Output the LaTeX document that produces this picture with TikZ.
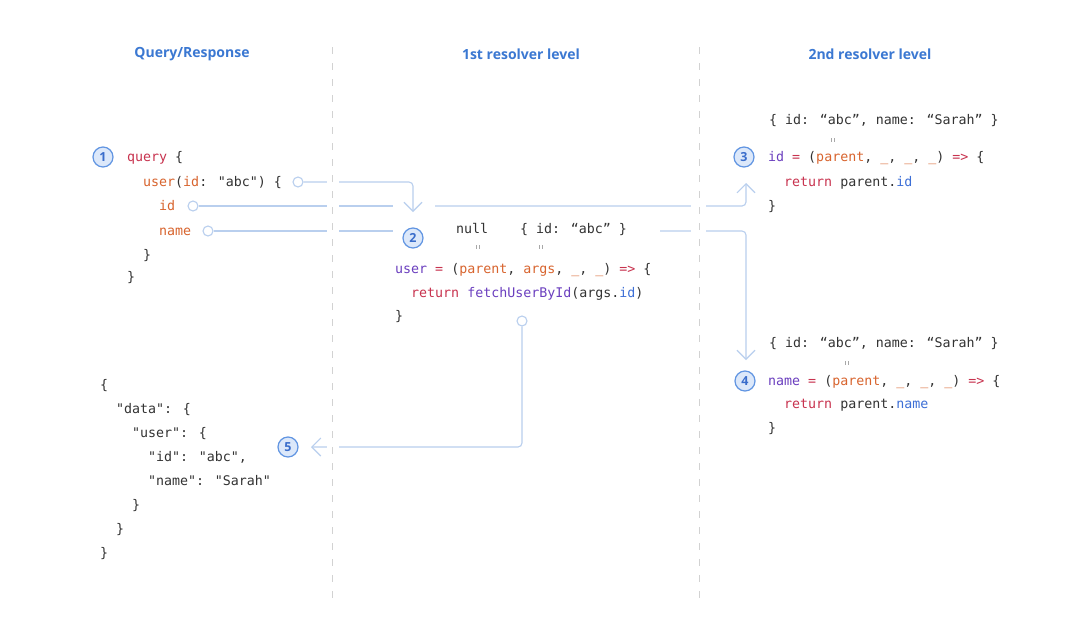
\documentclass[tikz,border=0pt]{standalone}
\usepackage{fontspec}
\setmainfont{Open Sans}
\newfontfamily\codefont{DejaVu Sans Mono}
\usetikzlibrary{arrows.meta}
\definecolor{hdrblue}{HTML}{3B78D2}
\definecolor{codedark}{HTML}{333333}
\definecolor{kwred}{HTML}{C8334F}
\definecolor{orng}{HTML}{D8642E}
\definecolor{purp}{HTML}{6B3FBF}
\definecolor{fblue}{HTML}{3D6FD6}
\definecolor{connblue}{HTML}{B9CFEE}
\definecolor{numedge}{HTML}{6195E2}
\definecolor{numfill}{HTML}{DCE8FA}
\definecolor{numtext}{HTML}{3A6DCB}
\definecolor{divgray}{HTML}{D2D2D2}
\definecolor{eqgray}{HTML}{A8A8A8}
\newcommand{\kw}[1]{\textcolor{kwred}{#1}}
\newcommand{\orn}[1]{\textcolor{orng}{#1}}
\newcommand{\pur}[1]{\textcolor{purp}{#1}}
\newcommand{\blu}[1]{\textcolor{fblue}{#1}}
\begin{document}
\begin{tikzpicture}[x=1pt,y=-1pt,
  code/.style={anchor=base west, inner sep=0pt, font=\codefont\fontsize{13.3}{15}\selectfont, text=codedark},
  hdr/.style={font=\bfseries\fontsize{14}{16}\selectfont, text=hdrblue, inner sep=0pt},
  num/.style={circle, draw=numedge, fill=numfill, line width=1.2pt, minimum size=20pt, inner sep=0pt, font=\bfseries\fontsize{12.5}{12.5}\selectfont, text=numtext},
  conn/.style={draw=connblue, line width=1.1pt, rounded corners=4pt},
  arr/.style={-{Straight Barb[length=9pt,width=18pt,line width=1.1pt]}},
  port/.style={circle, draw=connblue, fill=white, line width=1.1pt, minimum size=10pt, inner sep=0pt},
  divider/.style={draw=divgray, line width=1pt, dash pattern=on 7pt off 9pt},
  eqmark/.style={draw=eqgray, line width=0.6pt}]
\useasboundingbox (0,0) rectangle (1080,630);
\fill[white] (0,0) rectangle (1080,630);

% headers
\node[hdr] (h1) at (192,54) {Query/Response};
\node[hdr] (h2) at (521,54) {1st resolver level};
\node[hdr] (h3) at (870,54) {2nd resolver level};

% query
\node[num] (n1) at (103,157) {1};
\node[code] (q1) at (127,161.5) {\kw{query} \{};
\node[code] (q2) at (143,186.5) {\orn{user}(\orn{id}: "abc") \{};
\node[code] (q3) at (159,210.5) {\orn{id}};
\node[code] (q4) at (159,235.5) {\orn{name}};
\node[code] (q5) at (143,259.5) {\}};
\node[code] (q6) at (127,281.5) {\}};

% response
\node[code] (r1) at (100,389) {\{};
\node[code] (r2) at (116,413) {"data": \{};
\node[code] (r3) at (132,437) {"user": \{};
\node[code] (r4) at (148,461) {"id": "abc",};
\node[code] (r5) at (148,485) {"name": "Sarah"};
\node[code] (r6) at (132,509) {\}};
\node[code] (r7) at (116,533) {\}};
\node[code] (r8) at (100,557) {\}};
\node[num] (n5) at (288,447) {5};

% 1st resolver
\node[num] (n2) at (413,238) {2};
\node[code] (m0a) at (456,233.5) {null};
\node[code] (m0b) at (520,233.5) {\{ id: “abc” \}};
\node[code] (m1) at (395,273.5) {\pur{user} \kw{=} (\orn{parent}, \orn{args}, \orn{\_}, \orn{\_}) \kw{=>} \{};
\node[code] (m2) at (411,297.5) {\kw{return} \pur{fetchUserById}(args.\blu{id})};
\node[code] (m3) at (395,320.5) {\}};

% 2nd resolver, id
\node[code] (s0) at (769,124) {\{ id: “abc”, name: “Sarah” \}};
\node[num] (n3) at (744,157) {3};
\node[code] (s1) at (768,161.5) {\pur{id} \kw{=} (\orn{parent}, \orn{\_}, \orn{\_}, \orn{\_}) \kw{=>} \{};
\node[code] (s2) at (784,186.5) {\kw{return} parent.\blu{id}};
\node[code] (s3) at (768,210.5) {\}};

% 2nd resolver, name
\node[code] (t0) at (769,347.5) {\{ id: “abc”, name: “Sarah” \}};
\node[num] (n4) at (745,381) {4};
\node[code] (t1) at (768,385.5) {\pur{name} \kw{=} (\orn{parent}, \orn{\_}, \orn{\_}, \orn{\_}) \kw{=>} \{};
\node[code] (t2) at (784,408.5) {\kw{return} parent.\blu{name}};
\node[code] (t3) at (768,432.5) {\}};

% equality marks
\foreach \ex/\ey in {478/247, 541/247, 833/140, 847/363}{
  \draw[eqmark] (\ex-1.3,\ey-1.8) -- (\ex-1.3,\ey+1.8);
  \draw[eqmark] (\ex+1.3,\ey-1.8) -- (\ex+1.3,\ey+1.8);
}

% ports and connector ends
\node[port] (p1) at (298,182) {};
\node[port] (p2) at (193,206) {};
\node[port] (p3) at (208,231) {};
\node[port] (p4) at (522,321) {};
\coordinate (a1) at (413,212);
\coordinate (g2a) at (393,206);
\coordinate (g2b) at (435,206);
\coordinate (a3) at (746,183);
\coordinate (g3a) at (393,231);
\coordinate (g3b) at (660,231);
\coordinate (a4) at (746,360);
\coordinate (a5) at (311,447);

\draw[conn,arr] (p1.east) -| (a1);
\draw[conn] (p2.east) -- (g2a);
\draw[conn,arr] (g2b) -| (a3);
\draw[conn] (p3.east) -- (g3a);
\draw[conn,arr] (g3b) -| (a4);
\draw[conn,arr] (p4.south) |- (a5);

% gaps where connectors cross dividers
\fill[white] (327,150) rectangle (339,460);
\fill[white] (691,150) rectangle (706,460);

% dividers
\coordinate (d1t) at (332,47);
\coordinate (d1b) at (332,600);
\coordinate (d2t) at (699,47);
\coordinate (d2b) at (699,600);
\draw[divider] (d1t) -- (d1b);
\draw[divider] (d2t) -- (d2b);
\end{tikzpicture}
\end{document}
